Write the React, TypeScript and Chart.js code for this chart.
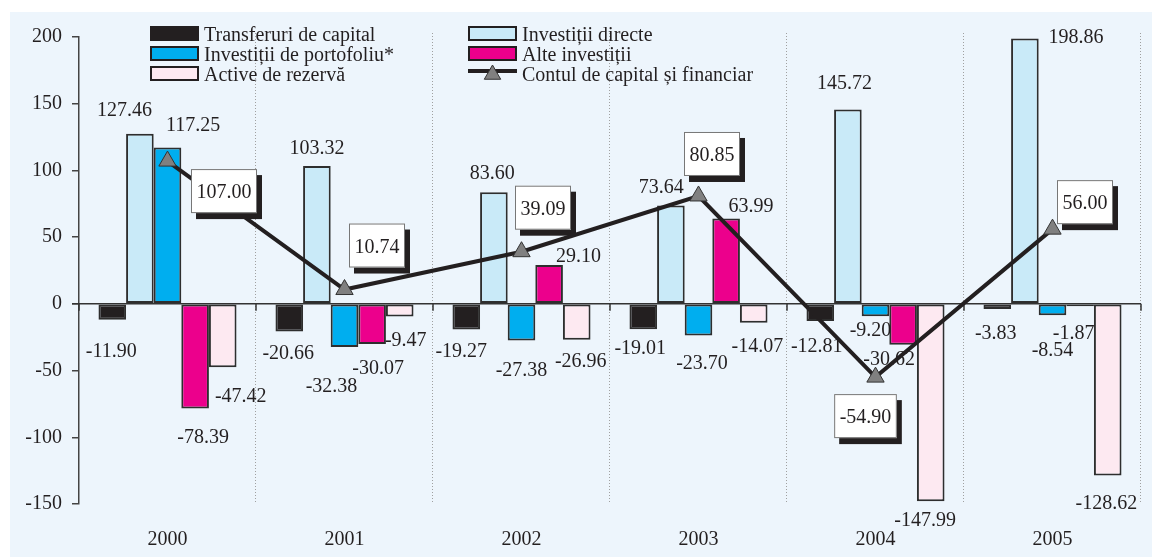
import React, { useEffect, useRef } from "react";
import { Chart, registerables } from "chart.js";
Chart.register(...registerables);

// ---------- data ----------
const years = ["2000", "2001", "2002", "2003", "2004", "2005"];
const transferuri = [-11.9, -20.66, -19.27, -19.01, -12.81, -3.83];
const directe = [127.46, 103.32, 83.6, 73.64, 145.72, 198.86];
const portofoliu = [117.25, -32.38, -27.38, -23.7, -9.2, -8.54];
const alte = [-78.39, -30.07, 29.1, 63.99, -30.62, -1.87];
const rezerva = [-47.42, -9.47, -26.96, -14.07, -147.99, -128.62];
const contul = [107.0, 10.74, 39.09, 80.85, -54.9, 56.0];
const yTicks = [-150, -100, -50, 0, 50, 100, 150, 200];
const seriesNames = [
  "Transferuri de capital",
  "Investiții directe",
  "Investiții de portofoliu*",
  "Alte investiții",
  "Active de rezervă",
  "Contul de capital și financiar",
];

// ---------- styles ----------
const FONT = "'Liberation Serif', 'Times New Roman', serif";
const TEXT = "#231f20";
const BAR_COLORS = ["#231f20", "#c9eaf8", "#00aeef", "#ec008c", "#fde9f1"];
const BG = "#edf5fc";

// label nudges (text centre relative to bar end), per series per year
const barLabelNudge = [
  [[-1, 30], [-1, 21], [-5, 20], [-3, 18], [-3.5, 24], [-1.5, 23]],
  [[-15.5, -25], [0, -19], [-1.7, -20.5], [-9.6, -20], [-3.4, -27], [51, -2.5]],
  [[25.6, -23], [-13, 38], [0, 29], [3.5, 27], [-5, 13], [0, 34]],
  [[8, 27.5], [6, 23.4], [29.5, -10], [25, -13], [-14, 13], [-6.5, 26]],
  [[18, 28], [6, 23], [4, 20.6], [3.7, 22.7], [-5.6, 18], [-1.4, 27]],
];
// box centre relative to line point
const boxNudge = [
  [56.5, 30], [32.5, -44], [21.5, -44], [13.5, -42], [-10, 39], [32.5, -27],
];

function triangle(ctx: CanvasRenderingContext2D, cx: number, cy: number, r: number) {
  ctx.beginPath();
  ctx.moveTo(cx, cy - r);
  ctx.lineTo(cx + r * 0.866, cy + r / 2);
  ctx.lineTo(cx - r * 0.866, cy + r / 2);
  ctx.closePath();
}

const decorPlugin = {
  id: "decor",
  beforeDraw(chart: any) {
    const { ctx, width, height } = chart;
    ctx.save();
    ctx.fillStyle = "#ffffff";
    ctx.fillRect(0, 0, width, height);
    ctx.fillStyle = BG;
    ctx.fillRect(10, 12, width - 10, height - 12);
    ctx.restore();
  },
  beforeDatasetsDraw(chart: any) {
    const { ctx, chartArea } = chart;
    const n = years.length;
    const w = (chartArea.right - chartArea.left) / n;
    const y0 = chart.scales.y.getPixelForValue(0);
    ctx.save();
    ctx.strokeStyle = "#a0a0a0";
    ctx.lineWidth = 1;
    ctx.setLineDash([1, 2]);
    for (let i = 1; i <= n; i++) {
      const x = Math.round(chartArea.left + i * w) - 0.5;
      ctx.beginPath();
      ctx.moveTo(x, chartArea.top - 4);
      ctx.lineTo(x, chartArea.bottom);
      ctx.stroke();
    }
    ctx.setLineDash([]);
    ctx.strokeStyle = "#333333";
    ctx.lineWidth = 1.5;
    ctx.beginPath();
    ctx.moveTo(chartArea.left - 7, y0);
    ctx.lineTo(chartArea.right, y0);
    ctx.stroke();
    for (let i = 0; i <= n; i++) {
      const x = Math.round(chartArea.left + i * w);
      ctx.beginPath();
      ctx.moveTo(x, y0);
      ctx.lineTo(x, y0 + 7);
      ctx.stroke();
    }
    ctx.restore();
  },
  beforeDatasetDraw(chart: any, args: any) {
    if (args.index !== 5) return;
    const { ctx } = chart;
    ctx.save();
    ctx.font = `20px ${FONT}`;
    ctx.fillStyle = TEXT;
    ctx.textAlign = "center";
    ctx.textBaseline = "alphabetic";
    for (let d = 0; d < 5; d++) {
      const meta = chart.getDatasetMeta(d);
      const vals = chart.data.datasets[d].data as number[];
      meta.data.forEach((el: any, i: number) => {
        const [dx, dy] = barLabelNudge[d][i];
        ctx.fillText(vals[i].toFixed(2), el.x + dx, el.y + dy + 7);
      });
    }
    ctx.restore();
  },
  afterDatasetsDraw(chart: any) {
    const { ctx } = chart;
    const meta = chart.getDatasetMeta(5);
    ctx.save();
    ctx.font = `20px ${FONT}`;
    ctx.textAlign = "center";
    ctx.textBaseline = "alphabetic";
    meta.data.forEach((el: any, i: number) => {
      const txt = contul[i].toFixed(2);
      const tw = ctx.measureText(txt).width;
      const bw = tw + 11;
      const bh = 44;
      const cx = el.x + boxNudge[i][0];
      const cy = el.y + boxNudge[i][1];
      const x = cx - bw / 2;
      const y = cy - bh / 2;
      ctx.fillStyle = "#231f20";
      ctx.fillRect(x + 5, y + 6, bw, bh);
      ctx.fillStyle = "#ffffff";
      ctx.fillRect(x, y, bw, bh);
      ctx.strokeStyle = "#777777";
      ctx.lineWidth = 1;
      ctx.strokeRect(x + 0.5, y + 0.5, bw - 1, bh - 1);
      ctx.fillStyle = TEXT;
      ctx.fillText(txt, cx, cy + 7);
    });
    ctx.restore();
  },
  afterDraw(chart: any) {
    const { ctx } = chart;
    ctx.save();
    ctx.font = `20px ${FONT}`;
    ctx.textAlign = "left";
    ctx.textBaseline = "alphabetic";
    const cols = [150, 468];
    const rowsTop = [26, 46, 66];
    const order = [0, 1, 2, 3, 4, 5];
    order.forEach((s, k) => {
      const col = k % 2;
      const row = Math.floor(k / 2);
      const sx = cols[col];
      const sy = rowsTop[row];
      if (s < 5) {
        ctx.fillStyle = BAR_COLORS[s];
        ctx.fillRect(sx, sy, 49, 15);
        ctx.strokeStyle = "#231f20";
        ctx.lineWidth = 2;
        ctx.strokeRect(sx + 1, sy + 1, 47, 13);
      } else {
        ctx.strokeStyle = "#231f20";
        ctx.lineWidth = 4;
        ctx.beginPath();
        ctx.moveTo(sx, sy + 5);
        ctx.lineTo(sx + 49, sy + 5);
        ctx.stroke();
        triangle(ctx, sx + 24.5, sy + 8.5, 9.5);
        ctx.fillStyle = "#808080";
        ctx.fill();
        ctx.strokeStyle = "#333333";
        ctx.lineWidth = 1;
        ctx.stroke();
      }
      ctx.fillStyle = TEXT;
      ctx.fillText(seriesNames[s], sx + 54, sy + 7.5 + 7);
    });
    ctx.restore();
  },
};

export default function App() {
  const ref = useRef<HTMLCanvasElement>(null);
  useEffect(() => {
    if (!ref.current) return;
    const barSets = [transferuri, directe, portofoliu, alte, rezerva].map((vals, i) => ({
      type: "bar" as const,
      label: seriesNames[i],
      data: vals,
      backgroundColor: BAR_COLORS[i],
      borderColor: "#2e2e2e",
      borderWidth: 2,
      borderSkipped: false,
      categoryPercentage: 0.78,
      barPercentage: 1,
      order: 1,
    }));
    const chart = new Chart(ref.current, {
      type: "bar",
      data: {
        labels: years,
        datasets: [
          ...barSets,
          {
            type: "line" as const,
            label: seriesNames[5],
            data: contul,
            borderColor: "#231f20",
            borderWidth: 4,
            pointStyle: "triangle",
            pointRadius: 10,
            pointBackgroundColor: "#808080",
            pointBorderColor: "#333333",
            pointBorderWidth: 1,
            tension: 0,
            order: 0,
          } as any,
        ],
      },
      options: {
        responsive: false,
        animation: false,
        layout: { padding: { top: 37, right: 0, bottom: 0, left: 0 } },
        plugins: {
          legend: { display: false },
          tooltip: { enabled: false },
        },
        scales: {
          x: {
            type: "category",
            grid: { display: false, drawTicks: false },
            border: { display: false },
            ticks: { padding: 24, color: TEXT, font: { size: 20, family: FONT } },
            afterFit(scale: any) {
              scale.height = 53;
            },
          },
          y: {
            min: -150,
            max: 200,
            afterBuildTicks(scale: any) {
              scale.ticks = yTicks.map((v) => ({ value: v }));
            },
            grid: {
              drawOnChartArea: false,
              drawTicks: true,
              tickLength: 7,
              color: "#444444",
              lineWidth: 1.5,
            },
            border: { display: true, color: "#444444", width: 1.5 },
            ticks: {
              padding: 10,
              color: TEXT,
              font: { size: 20, family: FONT },
              callback: (v: any) => String(v),
            },
            afterFit(scale: any) {
              scale.width = 79;
            },
          },
        },
      } as any,
      plugins: [decorPlugin],
    });
    return () => chart.destroy();
  }, []);
  return (
    <div style={{ position: "fixed", left: 0, top: 0, width: 1152, height: 557 }}>
      <canvas ref={ref} width={1152} height={557} style={{ display: "block" }} />
    </div>
  );
}
